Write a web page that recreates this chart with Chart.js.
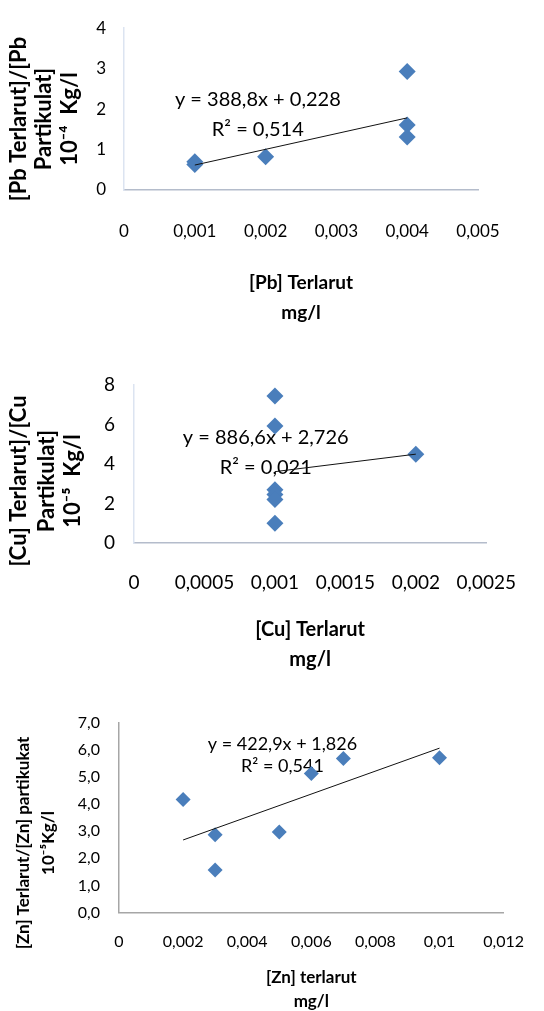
<!DOCTYPE html>
<html>
<head>
<meta charset="utf-8">
<title>Rasio logam terlarut / partikulat</title>
<script src="https://cdn.jsdelivr.net/npm/chart.js@4.4.1/dist/chart.umd.min.js"></script>
<style>
  html, body { margin: 0; padding: 0; background: #fff; }
  .plot { position: absolute; left: 0; }
</style>
</head>
<body>
<canvas id="pbChart" class="plot" width="544" height="335" style="top:0"></canvas>
<canvas id="cuChart" class="plot" width="544" height="335" style="top:340px"></canvas>
<canvas id="znChart" class="plot" width="544" height="321" style="top:690px"></canvas>
<script>
// Pb: dissolved (mg/l) vs dissolved/particulate ratio (10^-4 Kg/l)
const pbX = [0.001, 0.001, 0.002, 0.004, 0.004, 0.004];
const pbY = [0.70, 0.63, 0.82, 2.93, 1.61, 1.31];
const pbXTicks = [0, 0.001, 0.002, 0.003, 0.004, 0.005];
const pbYTicks = [0, 1, 2, 3, 4];
const pbTrend = { slope: 388.8, intercept: 0.228, r2: 0.514 };

// Cu
const cuX = [0.001, 0.001, 0.001, 0.001, 0.001, 0.001, 0.002];
const cuY = [7.44, 5.93, 2.70, 2.45, 2.20, 1.00, 4.50];
const cuXTicks = [0, 0.0005, 0.001, 0.0015, 0.002, 0.0025];
const cuYTicks = [0, 2, 4, 6, 8];
const cuTrend = { slope: 886.6, intercept: 2.726, r2: 0.021 };

// Zn
const znX = [0.002, 0.003, 0.003, 0.005, 0.006, 0.007, 0.01];
const znY = [4.16, 2.86, 1.57, 2.97, 5.12, 5.67, 5.70];
const znXTicks = [0, 0.002, 0.004, 0.006, 0.008, 0.01, 0.012];
const znYTicks = [0, 1, 2, 3, 4, 5, 6, 7];
const znTrend = { slope: 422.9, intercept: 1.826, r2: 0.541 };

const FONT = 'Lato, "Liberation Sans", sans-serif';
const MARKER = '#4a7ebb';

const comma = v => String(v).replace('.', ',');

// equation text and the rotated y caption are painted under the datasets
const captions = {
    id: 'captions',
    beforeDatasetsDraw(chart, args, opts) {
        const { ctx, scales: { x, y } } = chart;
        ctx.save();
        ctx.fillStyle = '#000';
        ctx.textAlign = 'center';
        ctx.textBaseline = 'middle';

        const eq = opts.equation;
        ctx.font = eq.font;
        const ex = x.getPixelForValue(eq.at[0]);
        const ey = y.getPixelForValue(eq.at[1]);
        eq.lines.forEach((line, i) => ctx.fillText(line, ex, ey + i * eq.gap));

        const side = opts.side;
        ctx.font = side.font;
        side.lines.forEach((line, i) => {
            ctx.save();
            ctx.translate(side.x[i], side.y);
            ctx.rotate(-Math.PI / 2);
            ctx.fillText(line, 0, 0);
            ctx.restore();
        });
        ctx.restore();
    }
};

function drawPanel(id, s) {
    const ends = [Math.min(...s.xs), Math.max(...s.xs)];
    const trendLine = ends.map(v => ({ x: v, y: s.trend.slope * v + s.trend.intercept }));
    const points = s.xs.map((v, i) => ({ x: v, y: s.ys[i] }));

    return new Chart(document.getElementById(id), {
        type: 'scatter',
        data: {
            datasets: [
                {
                    data: trendLine,
                    showLine: true,
                    borderColor: '#111',
                    borderWidth: 1,
                    pointRadius: 0
                },
                {
                    data: points,
                    pointStyle: 'rectRot',
                    pointRadius: s.marker,
                    backgroundColor: MARKER,
                    borderColor: MARKER,
                    borderWidth: 0
                }
            ]
        },
        options: {
            responsive: false,
            animation: false,
            layout: { padding: { top: s.top, right: s.right, left: 0, bottom: 0 } },
            plugins: {
                legend: { display: false },
                tooltip: { enabled: false },
                captions: {
                    equation: {
                        lines: [
                            'y = ' + comma(s.trend.slope) + 'x + ' + comma(s.trend.intercept),
                            'R\u00b2 = ' + comma(s.trend.r2)
                        ],
                        at: s.eqAt,
                        gap: s.eqGap,
                        font: s.eqSize + 'px ' + FONT
                    },
                    side: {
                        lines: s.yTitle,
                        x: s.yTitleX,
                        y: s.yTitleY,
                        font: 'bold ' + s.yTitleSize + 'px ' + FONT
                    }
                }
            },
            scales: {
                x: {
                    type: 'linear',
                    min: s.xTicks[0],
                    max: s.xTicks[s.xTicks.length - 1],
                    afterBuildTicks: sc => { sc.ticks = s.xTicks.map(v => ({ value: v })); },
                    afterFit: sc => { sc.height = s.xHeight; },
                    grid: { display: false, drawTicks: false },
                    border: { color: s.xAxisColor, width: 1.5 },
                    ticks: {
                        autoSkip: false,
                        maxRotation: 0,
                        padding: s.xTickPad,
                        color: '#000',
                        font: { family: FONT, size: s.tickSize },
                        callback: v => comma(v)
                    },
                    title: {
                        display: true,
                        text: s.xTitle,
                        color: '#000',
                        font: { family: FONT, size: s.xTitleSize, weight: 'bold', lineHeight: s.xTitleLH },
                        padding: { top: 0, bottom: s.xTitlePad }
                    }
                },
                y: {
                    type: 'linear',
                    min: s.yTicks[0],
                    max: s.yTicks[s.yTicks.length - 1],
                    afterBuildTicks: sc => { sc.ticks = s.yTicks.map(v => ({ value: v })); },
                    afterFit: sc => { sc.width = s.left; },
                    grid: { display: false, drawTicks: false },
                    border: { color: s.yAxisColor, width: 1.5 },
                    ticks: {
                        padding: s.yTickPad,
                        color: '#000',
                        font: { family: FONT, size: s.tickSize },
                        callback: s.yFormat
                    }
                }
            }
        },
        plugins: [captions]
    });
}

drawPanel('pbChart', {
    xs: pbX, ys: pbY, xTicks: pbXTicks, yTicks: pbYTicks, trend: pbTrend,
    marker: 8.5,
    top: 22, right: 66, left: 124, xHeight: 145,
    tickSize: 17, xTickPad: 31, yTickPad: 18,
    xAxisColor: '#b4bccb', yAxisColor: '#dce4f1',
    yFormat: v => comma(v),
    eqAt: [0.00189, 2.24], eqGap: 30, eqSize: 20,
    xTitle: ['[Pb] Terlarut', 'mg/l'], xTitleSize: 19, xTitleLH: 1.6, xTitlePad: 7,
    yTitle: ['[Pb Terlarut]/[Pb', 'Partikulat]', '10\u207b\u2074  Kg/l'],
    yTitleX: [19, 43.5, 69.5], yTitleY: 119, yTitleSize: 22
});

drawPanel('cuChart', {
    xs: cuX, ys: cuY, xTicks: cuXTicks, yTicks: cuYTicks, trend: cuTrend,
    marker: 8.5,
    top: 45, right: 33, left: 134, xHeight: 132,
    tickSize: 19, xTickPad: 28, yTickPad: 19,
    xAxisColor: '#b4bccb', yAxisColor: '#dce4f1',
    yFormat: v => comma(v),
    eqAt: [0.000935, 5.32], eqGap: 30, eqSize: 20,
    xTitle: ['[Cu] Terlarut', 'mg/l'], xTitleSize: 20, xTitleLH: 1.5, xTitlePad: 0,
    yTitle: ['[Cu] Terlarut]/[Cu', 'Partikulat]', '10\u207b\u2075  Kg/l'],
    yTitleX: [19, 47, 73], yTitleY: 141, yTitleSize: 22
});

drawPanel('znChart', {
    xs: znX, ys: znY, xTicks: znXTicks, yTicks: znYTicks, trend: znTrend,
    marker: 7.5,
    top: 32.5, right: 23, left: 119, xHeight: 98.5,
    tickSize: 16, xTickPad: 20, yTickPad: 19,
    xAxisColor: '#a6a6a6', yAxisColor: '#a6a6a6',
    yFormat: v => v.toFixed(1).replace('.', ','),
    eqAt: [0.0051, 6.19], eqGap: 22, eqSize: 18,
    xTitle: ['[Zn] terlarut', 'mg/l'], xTitleSize: 17, xTitleLH: 1.4, xTitlePad: -2,
    yTitle: ['[Zn] Terlarut/[Zn] partikukat', '10\u207b\u2075Kg/l'],
    yTitleX: [24, 49], yTitleY: 153, yTitleSize: 17
});
</script>
</body>
</html>
